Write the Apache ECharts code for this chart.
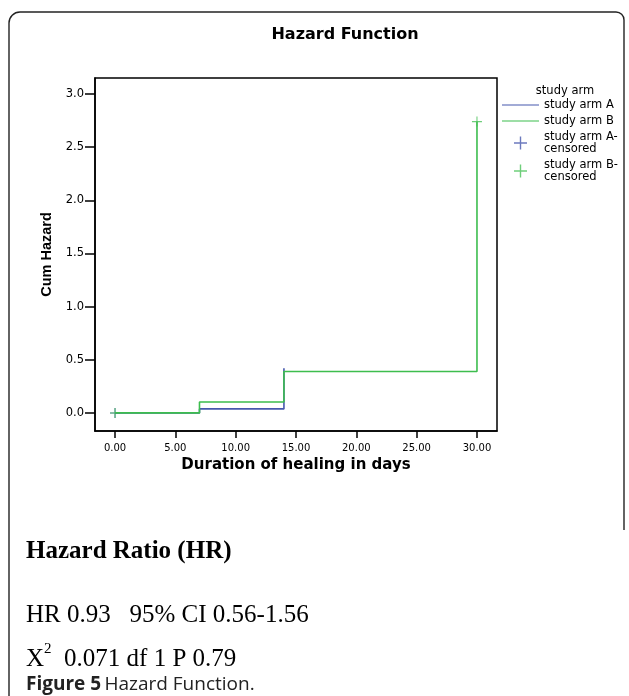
<!DOCTYPE html>
<html>
<head>
<meta charset="utf-8">
<script src="https://cdn.jsdelivr.net/npm/echarts@6/dist/echarts.min.js"></script>
<style>
  html, body { margin: 0; padding: 0; background: #fff; }
  #chart { width: 629px; height: 696px; }
</style>
</head>
<body>
<div id="chart"></div>
<script>
// step points (day, cumulative hazard)
var armA = [[0, 0], [7, 0.038], [14, 0.42]];
var armB = [[0, 0], [7, 0.103], [14, 0.389], [30, 2.74]];
var armACensored = [[0, 0]];
var armBCensored = [[0, 0], [30, 2.74]];

var yTicks = [0, 0.5, 1, 1.5, 2, 2.5, 3];
var xTicks = [0, 5, 10, 15, 20, 25, 30];

var blue = '#4658ad';
var green = '#3dbd4e';
var plus = 'path://M0,6.25H14V7.75H0Z M6.25,0H7.75V14H6.25Z';
var lineIcon = 'path://M0,0H37V1.2H0Z';

var chart = echarts.init(document.getElementById('chart'));

var frame = { stroke: '#222', lineWidth: 1.4, fill: null };

chart.setOption({
  animation: false,
  backgroundColor: '#fff',
  textStyle: { fontFamily: 'DejaVu Sans' },
  title: [
    {
      text: 'Hazard Function',
      left: 340, top: 22, textAlign: 'center',
      textStyle: { fontFamily: 'DejaVu Sans', fontSize: 16, fontWeight: 'bold', color: '#000' }
    },
    {
      text: 'study arm',
      left: 560, top: 80, textAlign: 'center',
      textStyle: { fontFamily: 'DejaVu Sans', fontSize: 11.5, fontWeight: 'normal', color: '#000' }
    }
  ],
  legend: {
    orient: 'vertical',
    left: 502, top: 99,
    padding: 0,
    itemWidth: 37, itemHeight: 13, itemGap: 4,
    itemStyle: { borderWidth: 0 },
    textStyle: { fontFamily: 'DejaVu Sans', fontSize: 11.5, lineHeight: 12, color: '#000' },
    formatter: function (n) { return n.replace('-censored', '-\ncensored'); },
    data: [
      { name: 'study arm A', icon: lineIcon },
      { name: 'study arm B', icon: lineIcon },
      { name: 'study arm A-censored', icon: plus },
      { name: 'study arm B-censored', icon: plus }
    ]
  },
  grid: {
    left: 95, right: 132, top: 78, bottom: 265,
    show: true, borderColor: '#000', borderWidth: 1.5
  },
  xAxis: {
    type: 'value', min: -1.66, max: 31.66,
    name: 'Duration of healing in days',
    nameLocation: 'middle', nameGap: 26,
    nameTextStyle: { fontFamily: 'DejaVu Sans', fontSize: 15, fontWeight: 'bold', color: '#000' },
    axisLine: { onZero: false, lineStyle: { color: '#000', width: 1.5 } },
    axisTick: { show: true, length: 7, customValues: xTicks, lineStyle: { color: '#000', width: 1.5 } },
    axisLabel: {
      customValues: xTicks, margin: 12, fontFamily: 'DejaVu Sans', fontSize: 10, color: '#000',
      formatter: function (v) { return v.toFixed(2); }
    },
    splitLine: { show: false }
  },
  yAxis: {
    type: 'value', min: -0.17, max: 3.15,
    name: 'Cum Hazard',
    nameLocation: 'middle', nameGap: 36,
    nameTextStyle: { fontFamily: 'Liberation Sans', fontSize: 14.5, fontWeight: 'bold', color: '#000' },
    axisLine: { show: true, onZero: false, lineStyle: { color: '#000', width: 1.5 } },
    axisTick: { show: true, length: 10, customValues: yTicks, lineStyle: { color: '#000', width: 1.5 } },
    axisLabel: {
      customValues: yTicks, margin: 11, fontFamily: 'DejaVu Sans', fontSize: 11.5, color: '#000',
      formatter: function (v) { return v.toFixed(1); }
    },
    splitLine: { show: false }
  },
  series: [
    {
      name: 'study arm A', type: 'line', step: 'end', data: armA,
      showSymbol: false, color: blue, lineStyle: { color: blue, width: 1.6 }
    },
    {
      name: 'study arm B', type: 'line', step: 'end', data: armB,
      showSymbol: false, color: green, lineStyle: { color: green, width: 1.6 }
    },
    {
      name: 'study arm A-censored', type: 'scatter', data: armACensored,
      symbol: plus, symbolSize: 10, color: blue
    },
    {
      name: 'study arm B-censored', type: 'scatter', data: armBCensored,
      symbol: plus, symbolSize: 10, color: green, itemStyle: { opacity: 0.75 }
    }
  ],
  graphic: [
    { type: 'line', silent: true, shape: { x1: 9, y1: 696, x2: 9, y2: 23 }, style: frame },
    { type: 'arc', silent: true, shape: { cx: 20, cy: 23, r: 11, startAngle: Math.PI, endAngle: Math.PI * 1.5 }, style: frame },
    { type: 'line', silent: true, shape: { x1: 20, y1: 12, x2: 616, y2: 12 }, style: frame },
    { type: 'arc', silent: true, shape: { cx: 616, cy: 20, r: 8, startAngle: Math.PI * 1.5, endAngle: Math.PI * 2 }, style: frame },
    { type: 'line', silent: true, shape: { x1: 624, y1: 20, x2: 624, y2: 530 }, style: frame },
    {
      type: 'text', left: 26, top: 539,
      style: { text: 'Hazard Ratio (HR)', font: 'bold 25px "Liberation Serif"', fill: '#000' }
    },
    {
      type: 'text', left: 26, top: 603,
      style: { text: 'HR 0.93   95% CI 0.56-1.56', font: '25px "Liberation Serif"', fill: '#000' }
    },
    {
      type: 'text', left: 26, top: 642,
      style: {
        text: '{a|X}{s|2}{a|  0.071 df 1 P 0.79}',
        rich: {
          a: { fontFamily: 'Liberation Serif', fontSize: 25, lineHeight: 30, verticalAlign: 'bottom', fill: '#000' },
          s: { fontFamily: 'Liberation Serif', fontSize: 15, lineHeight: 30, verticalAlign: 'top', fill: '#000' }
        }
      }
    },
    {
      type: 'text', left: 26, top: 675,
      style: {
        text: '{b|Figure 5} {n|Hazard Function}{n|.}',
        rich: {
          b: { fontFamily: 'Open Sans', fontSize: 19, fontWeight: 'bold', fill: '#222' },
          n: { fontFamily: 'Open Sans', fontSize: 19, fill: '#222' }
        }
      }
    }
  ]
});
</script>
</body>
</html>
